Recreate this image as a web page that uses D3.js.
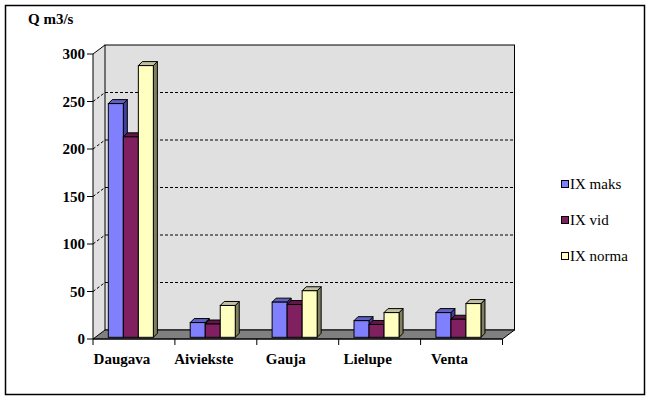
<!DOCTYPE html>
<html>
<head>
<meta charset="utf-8">
<script src="https://cdn.jsdelivr.net/npm/d3@7"></script>
<style>
  html, body { margin: 0; padding: 0; background: #fff; }
  svg { display: block; }
</style>
</head>
<body>
<div id="chart"></div>
<script>
// ---- data ----
const categories = ["Daugava", "Aiviekste", "Gauja", "Lielupe", "Venta"];
const seriesNames = ["IX maks", "IX vid", "IX norma"];
const maks  = [246, 15.5, 37, 17.5, 26];
const vid   = [211, 14, 34.5, 13.5, 19];
const norma = [286, 33.5, 49, 26, 35.5];
const yTicks = [0, 50, 100, 150, 200, 250, 300];
const yTitle = "Q m3/s";

const seriesValues = [maks, vid, norma];
const faceColors = ["#8080ff", "#802060", "#ffffc0"];
const sideColors = ["#40409a", "#401030", "#808060"];
const topColors  = ["#6060c0", "#601848", "#c0c0a0"];

const W = 650, H = 399;
const FONT = "Liberation Serif";
const svg = d3.select("#chart").append("svg").attr("width", W).attr("height", H);

// outer border
svg.append("rect").attr("x", 5.5).attr("y", 5.5).attr("width", 639).attr("height", 389)
  .attr("fill", "#fff").attr("stroke", "#000").attr("stroke-width", 1.5);

// geometry
const left = 93, right = 502.5;
const dx = 12, dy = -9;           // wall depth
const bdx = 4, bdy = -4;          // bar depth
const yFront = d3.scaleLinear().domain([0, 300]).range([339, 54]);
const yBack  = d3.scaleLinear().domain([0, 300]).range([339 + dy, 54 + dy]);
const yBar   = d3.scaleLinear().domain([0, 300]).range([337.3, 52.3]);
const x0 = d3.scaleBand().domain(categories).range([left, right]);
const bw = x0.bandwidth();
const x1 = d3.scaleBand().domain(seriesNames).range([bw * 0.187, bw * 0.187 + bw * 0.55]);

const wall = "#e0e0e0";
const pts = a => a.map(p => p.join(",")).join(" ");

// side wall
svg.append("polygon")
  .attr("points", pts([[left, yFront(0)], [left + dx, yBack(0)], [left + dx, yBack(300)], [left, yFront(300)]]))
  .attr("fill", wall).attr("stroke", "none");
// back wall
svg.append("rect").attr("x", left + dx).attr("y", yBack(300))
  .attr("width", right - left).attr("height", yBack(0) - yBack(300))
  .attr("fill", wall).attr("stroke", "#000").attr("stroke-width", 1);

// gridlines
const grid = yTicks.filter(v => v > 0 && v < 300);
svg.selectAll("line.gb").data(grid).enter().append("line")
  .attr("x1", left + dx).attr("x2", right + dx)
  .attr("y1", d => yBack(d)).attr("y2", d => yBack(d))
  .attr("stroke", "#000").attr("stroke-dasharray", "3,2");
svg.selectAll("line.gs").data(grid).enter().append("line")
  .attr("x1", left).attr("x2", left + dx)
  .attr("y1", d => yFront(d)).attr("y2", d => yBack(d))
  .attr("stroke", "#000").attr("stroke-dasharray", "3,2");
svg.append("line").attr("x1", left).attr("y1", yFront(300)).attr("x2", left + dx).attr("y2", yBack(300))
  .attr("stroke", "#000");

// floor
svg.append("polygon")
  .attr("points", pts([[left, yFront(0)], [right, yFront(0)], [right + dx, yBack(0)], [left + dx, yBack(0)]]))
  .attr("fill", "#808080").attr("stroke", "#000").attr("stroke-width", 1);

// bars
categories.forEach((c, ci) => {
  seriesNames.forEach((s, si) => {
    const v = seriesValues[si][ci];
    const xa = x0(c) + x1(s), xb = xa + x1.bandwidth();
    const yt = yBar(v), yb = yBar(0);
    const g = svg.append("g");
    g.append("polygon")
      .attr("points", pts([[xb, yb], [xb + bdx, yb + bdy], [xb + bdx, yt + bdy], [xb, yt]]))
      .attr("fill", sideColors[si]).attr("stroke", "#000").attr("stroke-width", 1);
    g.append("polygon")
      .attr("points", pts([[xa, yt], [xa + bdx, yt + bdy], [xb + bdx, yt + bdy], [xb, yt]]))
      .attr("fill", topColors[si]).attr("stroke", "#000").attr("stroke-width", 1);
    g.append("rect").attr("x", xa).attr("y", yt).attr("width", xb - xa).attr("height", yb - yt)
      .attr("fill", faceColors[si]).attr("stroke", "#000").attr("stroke-width", 1);
  });
});

// y axis
svg.append("line").attr("x1", left).attr("x2", left).attr("y1", yFront(0)).attr("y2", yFront(300))
  .attr("stroke", "#000");
svg.selectAll("line.yt").data(yTicks).enter().append("line")
  .attr("x1", left - 6).attr("x2", left).attr("y1", d => yFront(d)).attr("y2", d => yFront(d))
  .attr("stroke", "#000");
svg.selectAll("text.yl").data(yTicks).enter().append("text")
  .attr("x", left - 8).attr("y", d => yFront(d) + 5)
  .attr("font-family", FONT)
  .attr("text-anchor", "end").attr("font-size", 15).attr("font-weight", "bold")
  .text(d => d);

// x axis
svg.append("line").attr("x1", left).attr("x2", right).attr("y1", yFront(0)).attr("y2", yFront(0))
  .attr("stroke", "#000");
const xTickPos = categories.map(c => x0(c)).concat([right]);
svg.selectAll("line.xt").data(xTickPos).enter().append("line")
  .attr("x1", d => d).attr("x2", d => d).attr("y1", yFront(0)).attr("y2", yFront(0) + 6)
  .attr("stroke", "#000");
svg.selectAll("text.xl").data(categories).enter().append("text")
  .attr("x", d => x0(d) + bw / 2 - 12).attr("y", 364)
  .attr("font-family", FONT)
  .attr("text-anchor", "middle").attr("font-size", 15).attr("font-weight", "bold")
  .text(d => d);

// y title
svg.append("text").attr("x", 28).attr("y", 24)
  .attr("font-family", FONT).attr("font-size", 15).attr("font-weight", "bold")
  .text(yTitle);

// legend
const legY = [184, 220, 256];
seriesNames.forEach((s, i) => {
  svg.append("rect").attr("x", 561.5).attr("y", legY[i] - 3.5).attr("width", 7).attr("height", 7)
    .attr("fill", faceColors[i]).attr("stroke", "#000").attr("stroke-width", 1);
  svg.append("text").attr("x", 570).attr("y", legY[i] + 5)
    .attr("font-family", FONT).attr("font-size", 15)
    .text(s);
});
</script>
</body>
</html>
